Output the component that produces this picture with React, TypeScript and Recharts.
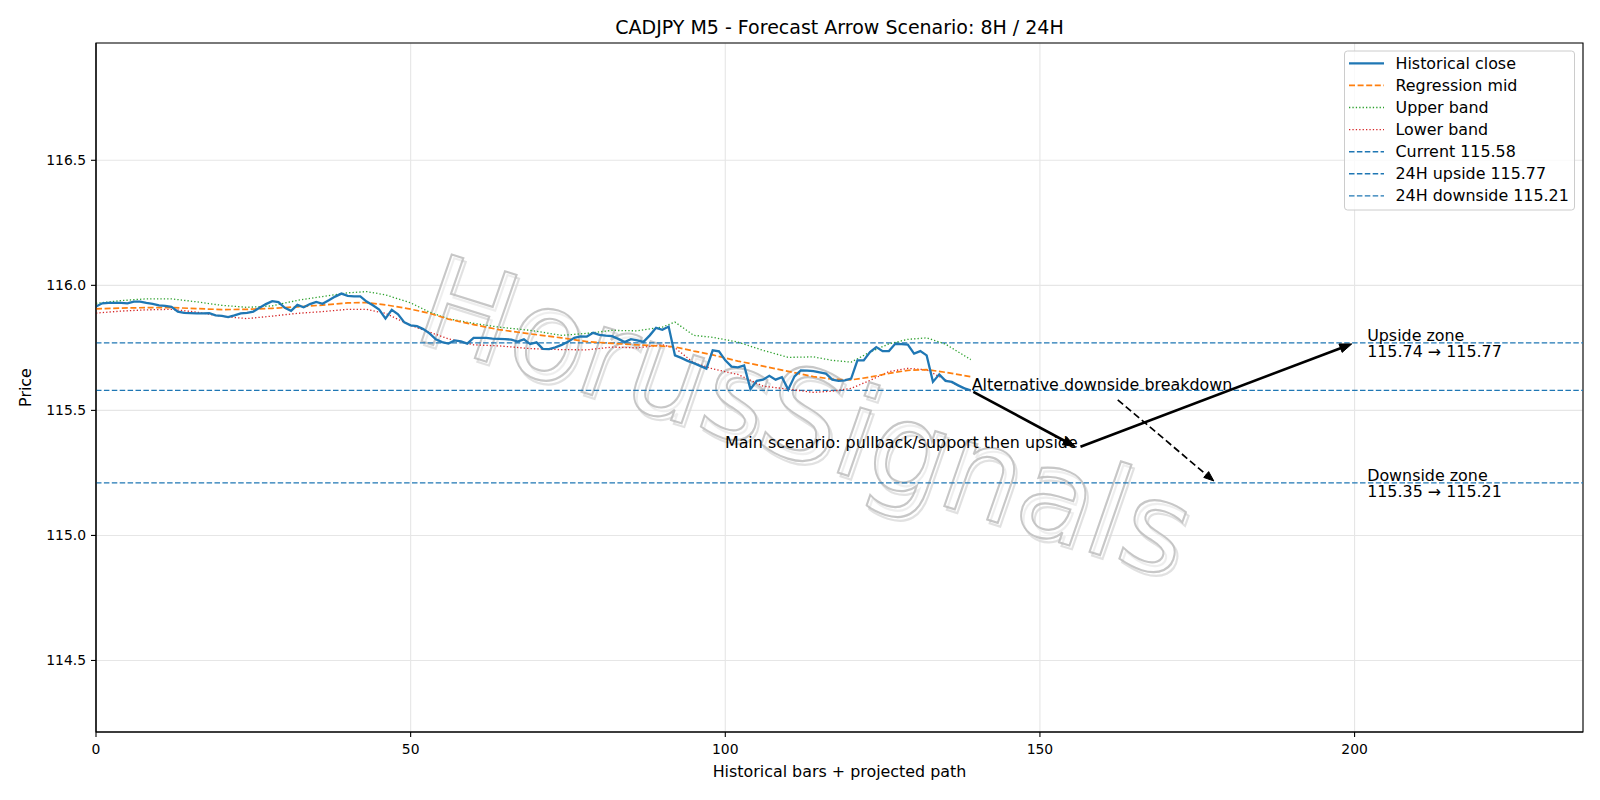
import React from 'react';
import {
  ComposedChart,
  Line,
  XAxis,
  YAxis,
  CartesianGrid,
  ReferenceLine,
  ReferenceDot,
  ReferenceArea,
  Customized,
} from 'recharts';

// ---------- data ----------
const historicalClose = [
  115.915, 115.928, 115.93, 115.93, 115.93, 115.928, 115.935, 115.935, 115.93, 115.926,
  115.92, 115.918, 115.914, 115.895, 115.89, 115.889, 115.888, 115.888, 115.889, 115.88,
  115.878, 115.873, 115.88, 115.888, 115.89, 115.895, 115.91, 115.925, 115.937, 115.933,
  115.91, 115.898, 115.922, 115.912, 115.925, 115.934, 115.926, 115.94, 115.955, 115.967,
  115.958, 115.956, 115.956, 115.935, 115.92, 115.903, 115.867, 115.902, 115.884, 115.852,
  115.84, 115.837, 115.825, 115.808, 115.784, 115.773, 115.767, 115.78, 115.776, 115.767,
  115.79, 115.79, 115.79, 115.787, 115.786, 115.785, 115.783, 115.775, 115.784, 115.765,
  115.772, 115.746, 115.745, 115.752, 115.762, 115.774, 115.79, 115.796, 115.795, 115.81,
  115.802, 115.799, 115.797, 115.786, 115.773, 115.785, 115.78, 115.774, 115.8, 115.83,
  115.822, 115.835, 115.72, 115.71, 115.698, 115.689, 115.678, 115.667, 115.74, 115.736,
  115.7, 115.675, 115.672, 115.68, 115.585, 115.618, 115.623, 115.638, 115.623, 115.633,
  115.583, 115.636, 115.66, 115.659, 115.657, 115.652, 115.647, 115.623, 115.618, 115.62,
  115.627, 115.7, 115.7, 115.733, 115.753, 115.737, 115.737, 115.766, 115.765, 115.763,
  115.727, 115.737, 115.72, 115.614, 115.644, 115.618, 115.614, 115.6, 115.588, 115.58,
];

const bandBars = [
  0, 4, 8, 12, 16, 20, 24, 28, 32, 36, 40, 43, 46, 50, 53, 56, 60, 64, 69, 74,
  78, 82, 86, 90, 92, 95, 98, 102, 106, 110, 114, 117, 120, 123, 126, 129, 132, 135, 139,
];
const regressionMid = [
  115.906, 115.909, 115.911, 115.911, 115.907, 115.903, 115.904, 115.908, 115.914, 115.921,
  115.93, 115.931, 115.922, 115.905, 115.888, 115.865, 115.843, 115.823, 115.806, 115.79,
  115.775, 115.768, 115.762, 115.757, 115.754, 115.737, 115.722, 115.697, 115.677, 115.656,
  115.635, 115.625, 115.622, 115.633, 115.648, 115.66, 115.663, 115.652, 115.635,
];
const upperBand = [
  115.928, 115.939, 115.946, 115.946, 115.934, 115.92, 115.912, 115.918, 115.94, 115.955,
  115.97, 115.975, 115.962, 115.93, 115.893, 115.866, 115.848, 115.833, 115.82, 115.8,
  115.808, 115.82, 115.818, 115.833, 115.853, 115.8, 115.792, 115.773, 115.74, 115.712,
  115.714, 115.7, 115.693, 115.733, 115.766, 115.784, 115.79, 115.765, 115.703,
];
const lowerBand = [
  115.889, 115.897, 115.902, 115.904, 115.893, 115.876, 115.867, 115.877, 115.888, 115.895,
  115.904, 115.904, 115.888, 115.84, 115.813, 115.786, 115.762, 115.758, 115.747, 115.743,
  115.742, 115.753, 115.75, 115.762, 115.75, 115.69, 115.666, 115.644, 115.597, 115.585,
  115.572, 115.577, 115.588, 115.62, 115.655, 115.668, 115.662, 115.622, 115.578,
];

const currentPrice = 115.58;
const upside24h = 115.77;
const downside24h = 115.21;
const pullbackLevel = 115.35;
const upsideZoneFrom = 115.74;
const lastBar = 139;
const pullbackBar = 156;
const targetBar = 200;
const altStartBar = 162;
const altStartPrice = 115.55;
const altEndBar = 178;
const zoneLabelBar = 202;

const xTicks = [0, 50, 100, 150, 200];
const yTicks = [114.5, 115.0, 115.5, 116.0, 116.5];
const xDomain: [number, number] = [0, 236.3];
const yDomain: [number, number] = [114.214, 116.969];

const titleText = 'CADJPY M5 - Forecast Arrow Scenario: 8H / 24H';
const xLabelText = 'Historical bars + projected path';
const yLabelText = 'Price';
const mainScenarioText = 'Main scenario: pullback/support then upside';
const altScenarioText = 'Alternative downside breakdown';
const upsideZoneLines = ['Upside zone', `${upsideZoneFrom.toFixed(2)} \u2192 ${upside24h.toFixed(2)}`];
const downsideZoneLines = ['Downside zone', `${pullbackLevel.toFixed(2)} \u2192 ${downside24h.toFixed(2)}`];
const watermarkText = 'HorusSignals';

const C0 = '#1f77b4';
const C1 = '#ff7f0e';
const C2 = '#2ca02c';
const C3 = '#d62728';

const legendItems = [
  { label: 'Historical close', color: C0, width: 2.2, dash: undefined as string | undefined },
  { label: 'Regression mid', color: C1, width: 1.7, dash: '6 2.6' },
  { label: 'Upper band', color: C2, width: 1.3, dash: '1.3 2.1' },
  { label: 'Lower band', color: C3, width: 1.3, dash: '1.3 2.1' },
  { label: `Current ${currentPrice.toFixed(2)}`, color: C0, width: 1.4, dash: '5.5 2.4' },
  { label: `24H upside ${upside24h.toFixed(2)}`, color: C0, width: 1.4, dash: '5.5 2.4' },
  { label: `24H downside ${downside24h.toFixed(2)}`, color: C0, width: 1.4, dash: '5.5 2.4' },
];

const historicalData = historicalClose.map((v, i) => ({ x: i, v }));
const bandData = bandBars.map((b, k) => ({
  x: b,
  mid: regressionMid[k],
  up: upperBand[k],
  low: lowerBand[k],
}));

const FONT = 'DejaVu Sans, sans-serif';
const FS_TICK = 13.9;
const FS = 15.9;
const FS_TITLE = 19;

// ---------- helpers ----------
const makeArrow = (width: number, dash: string | undefined, headLen: number, headHalf: number) =>
  (props: any) => {
    const { x1, y1, x2, y2 } = props;
    const dx = x2 - x1;
    const dy = y2 - y1;
    const len = Math.hypot(dx, dy) || 1;
    const ux = dx / len;
    const uy = dy / len;
    const sx = x1 + ux * 3;
    const sy = y1 + uy * 3;
    const ex = x2 - ux * 3;
    const ey = y2 - uy * 3;
    const bx = ex - ux * headLen;
    const by = ey - uy * headLen;
    const px = -uy;
    const py = ux;
    return (
      <g>
        <line x1={sx} y1={sy} x2={bx + ux * 2} y2={by + uy * 2} stroke="#000" strokeWidth={width} strokeDasharray={dash} />
        <polygon
          points={`${ex},${ey} ${bx + px * headHalf},${by + py * headHalf} ${bx - px * headHalf},${by - py * headHalf}`}
          fill="#000"
          stroke="#000"
          strokeWidth={1}
        />
      </g>
    );
  };

const textAt = (content: string, anchor: 'start' | 'end', dx: number) => (props: any) => (
  <text x={props.cx + dx} y={props.cy} textAnchor={anchor} fontSize={FS} fontFamily={FONT} fill="#000">
    {content}
  </text>
);

const zoneText = (lines: string[]) => (props: any) => (
  <text x={props.cx} y={props.cy} fontSize={FS} fontFamily={FONT} fill="#000" dominantBaseline="central">
    <tspan x={props.cx} dy={-8.2}>{lines[0]}</tspan>
    <tspan x={props.cx} dy={16.4}>{lines[1]}</tspan>
  </text>
);

const Title = () => (
  <text x={839.5} y={26.5} textAnchor="middle" dominantBaseline="central" fontSize={FS_TITLE} fontFamily={FONT} fill="#000">
    {titleText}
  </text>
);

const Watermark = () => (
  <g transform="translate(805,416) skewY(17.5) skewX(-8)" pointerEvents="none">
    <text
      x={3}
      y={3}
      textAnchor="middle"
      dominantBaseline="central"
      fontSize={132}
      fontStyle="italic"
      fontFamily={FONT}
      fill="none"
      stroke="#dadada"
      strokeOpacity={0.8}
      strokeWidth={2.2}
      textLength={760}
      lengthAdjust="spacingAndGlyphs"
    >
      {watermarkText}
    </text>
    <text
      x={0}
      y={0}
      textAnchor="middle"
      dominantBaseline="central"
      fontSize={132}
      fontStyle="italic"
      fontFamily={FONT}
      fill="#ffffff"
      fillOpacity={0.45}
      stroke="#bdbdbd"
      strokeOpacity={0.85}
      strokeWidth={2.2}
      textLength={760}
      lengthAdjust="spacingAndGlyphs"
    >
      {watermarkText}
    </text>
  </g>
);

const LegendBox = () => {
  const x0 = 1344.5;
  const y0 = 51;
  const rowH = 22.1;
  return (
    <g>
      <rect x={x0} y={y0} width={230} height={159} rx={3} ry={3} fill="#fff" fillOpacity={0.8} stroke="#cccccc" strokeWidth={1} />
      {legendItems.map((it, k) => {
        const cy = 63.3 + rowH * k;
        return (
          <g key={it.label}>
            <line x1={1349} x2={1384} y1={cy} y2={cy} stroke={it.color} strokeWidth={it.width} strokeDasharray={it.dash} />
            <text x={1395.5} y={cy} dominantBaseline="central" fontSize={FS} fontFamily={FONT} fill="#000">
              {it.label}
            </text>
          </g>
        );
      })}
    </g>
  );
};

export default function App() {
  return (
    <div style={{ position: 'absolute', left: 0, top: 0, width: 1600, height: 800, background: '#fff', fontFamily: FONT }}>
      <ComposedChart width={1600} height={800} margin={{ top: 43, right: 17, bottom: 0, left: 0 }}>
        <CartesianGrid stroke="#e6e6e6" strokeWidth={1.1} />
        <XAxis
          type="number"
          dataKey="x"
          domain={xDomain}
          ticks={xTicks}
          allowDataOverflow
          height={68}
          tickSize={5}
          tickMargin={7}
          axisLine={{ stroke: '#000', strokeWidth: 1.1 }}
          tickLine={{ stroke: '#000', strokeWidth: 1.1 }}
          tick={{ fill: '#000', fontSize: FS_TICK, fontFamily: FONT }}
          label={{ value: xLabelText, position: 'insideBottom', offset: 22.8, fill: '#000', fontSize: FS, fontFamily: FONT }}
        />
        <YAxis
          type="number"
          domain={yDomain}
          ticks={yTicks}
          allowDataOverflow
          width={96}
          tickSize={5}
          tickMargin={5}
          tickFormatter={(v: number) => v.toFixed(1)}
          axisLine={{ stroke: '#000', strokeWidth: 1.1 }}
          tickLine={{ stroke: '#000', strokeWidth: 1.1 }}
          tick={{ fill: '#000', fontSize: FS_TICK, fontFamily: FONT }}
          label={{
            value: yLabelText,
            angle: -90,
            position: 'insideLeft',
            offset: 25.5,
            fill: '#000',
            fontSize: FS,
            fontFamily: FONT,
            style: { textAnchor: 'middle' },
          }}
        />
        <ReferenceArea
          x1={xDomain[0]}
          x2={xDomain[1]}
          y1={yDomain[0]}
          y2={yDomain[1]}
          fill="none"
          fillOpacity={0}
          stroke="#000"
          strokeWidth={1.1}
          ifOverflow="visible"
        />
        <ReferenceLine y={currentPrice} stroke={C0} strokeWidth={1.4} strokeDasharray="5.5 2.4" />
        <ReferenceLine y={upside24h} stroke={C0} strokeWidth={1.4} strokeDasharray="5.5 2.4" />
        <ReferenceLine y={downside24h} stroke={C0} strokeWidth={1.4} strokeDasharray="5.5 2.4" />

        <Line data={bandData} dataKey="up" stroke={C2} strokeWidth={1.3} strokeDasharray="1.3 2.1" dot={false} activeDot={false} isAnimationActive={false} type="linear" />
        <Line data={bandData} dataKey="low" stroke={C3} strokeWidth={1.3} strokeDasharray="1.3 2.1" dot={false} activeDot={false} isAnimationActive={false} type="linear" />
        <Line data={bandData} dataKey="mid" stroke={C1} strokeWidth={1.7} strokeDasharray="6 2.6" dot={false} activeDot={false} isAnimationActive={false} type="linear" />
        <Line data={historicalData} dataKey="v" stroke={C0} strokeWidth={2.3} dot={false} activeDot={false} isAnimationActive={false} type="linear" />

        <ReferenceLine
          segment={[{ x: lastBar, y: currentPrice }, { x: pullbackBar, y: pullbackLevel }]}
          ifOverflow="visible"
          shape={makeArrow(2.6, undefined, 12, 4.5)}
        />
        <ReferenceLine
          segment={[{ x: pullbackBar, y: pullbackLevel }, { x: targetBar, y: upside24h }]}
          ifOverflow="visible"
          shape={makeArrow(2.6, undefined, 12, 4.5)}
        />
        <ReferenceLine
          segment={[{ x: altStartBar, y: altStartPrice }, { x: altEndBar, y: downside24h }]}
          ifOverflow="visible"
          shape={makeArrow(1.7, '7 3.5', 10, 3.8)}
        />

        <ReferenceDot x={lastBar} y={currentPrice} r={0} ifOverflow="visible" shape={textAt(altScenarioText, 'start', 1)} />
        <ReferenceDot x={pullbackBar} y={pullbackLevel} r={0} ifOverflow="visible" shape={textAt(mainScenarioText, 'end', 0)} />
        <ReferenceDot x={zoneLabelBar} y={upside24h} r={0} ifOverflow="visible" shape={zoneText(upsideZoneLines)} />
        <ReferenceDot x={zoneLabelBar} y={downside24h} r={0} ifOverflow="visible" shape={zoneText(downsideZoneLines)} />

        <Customized component={Watermark} />
        <Customized component={Title} />
        <Customized component={LegendBox} />
      </ComposedChart>
    </div>
  );
}
